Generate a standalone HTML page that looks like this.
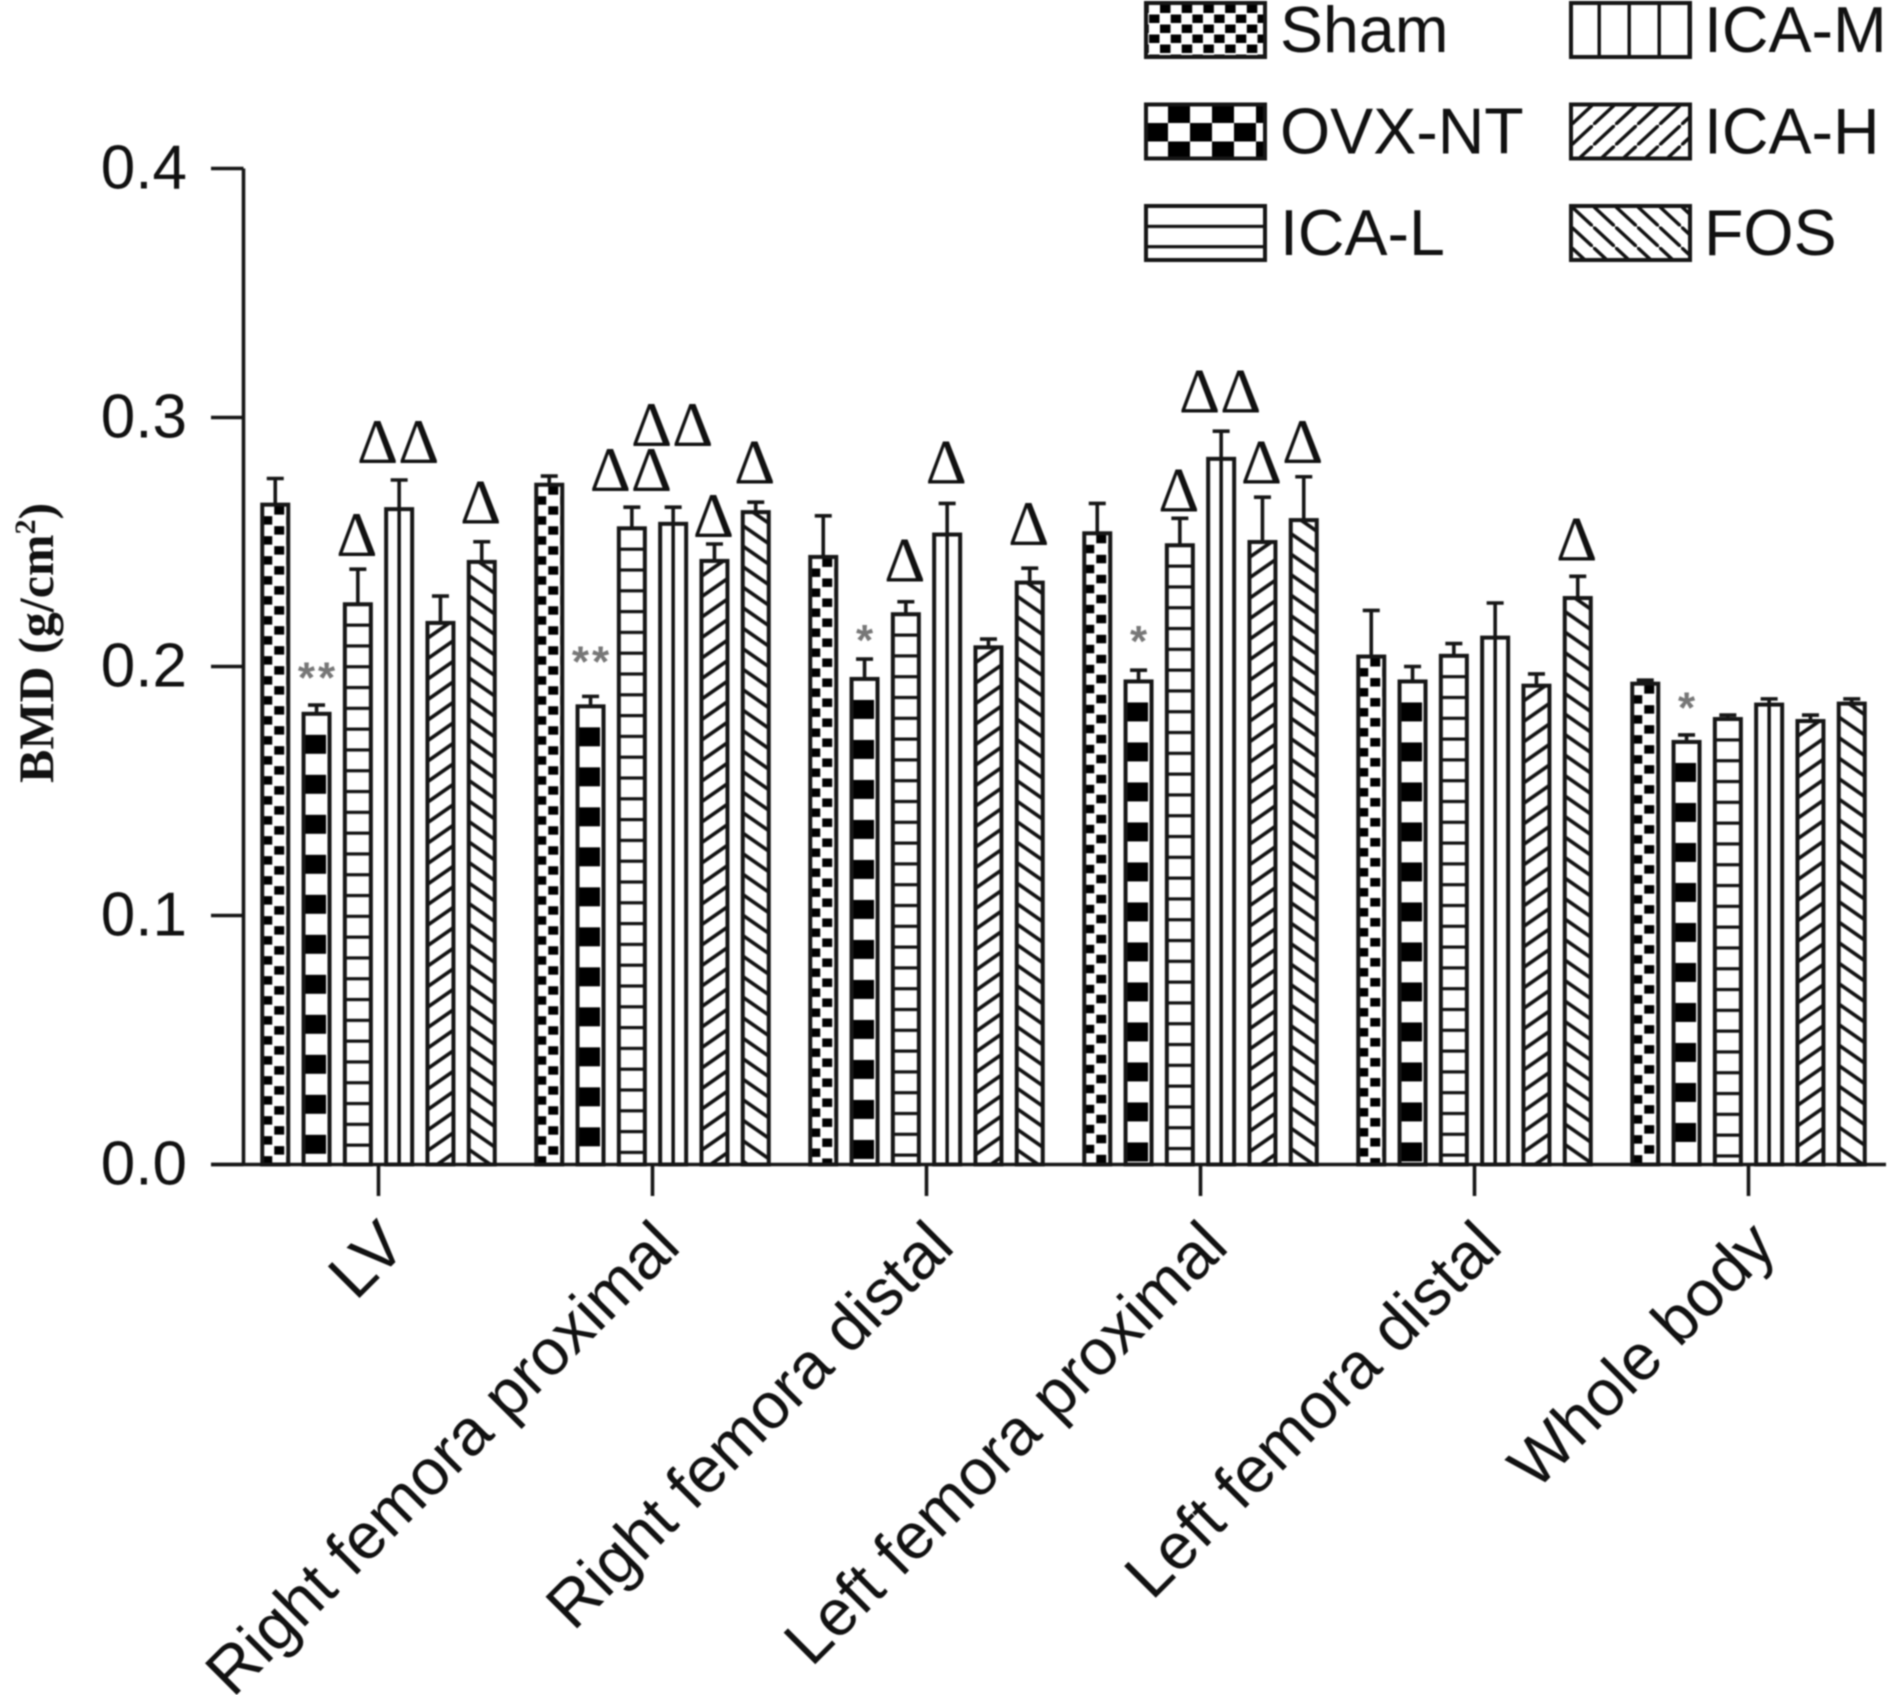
<!DOCTYPE html>
<html lang="en">
<head>
<meta charset="utf-8">
<title>BMD bar chart</title>
<style>
html,body{margin:0;padding:0;background:#fff;width:1890px;height:1695px;overflow:hidden}
svg{display:block;filter:blur(0.7px)}
text{fill:#111;font-family:"Liberation Sans",sans-serif}
</style>
</head>
<body>
<svg id="chart" xmlns="http://www.w3.org/2000/svg" width="1890" height="1695" viewBox="0 0 1890 1695">
<defs>
<!-- bar fills: tile origin is the top-centre of each bar -->
<pattern id="p0" patternUnits="userSpaceOnUse" width="24" height="20" x="-13" y="0">
<rect width="24" height="20" fill="#fff"/>
<rect x="0" y="11.5" width="10" height="8.5" fill="#000"/>
<rect x="12" y="1.5" width="10" height="8.5" fill="#000"/>
</pattern>
<pattern id="p1" patternUnits="userSpaceOnUse" width="46" height="40" x="-12" y="0">
<rect width="46" height="40" fill="#fff"/>
<rect x="0" y="21" width="21.5" height="19" fill="#000"/>
<rect x="23" y="1" width="22" height="19" fill="#000"/>
</pattern>
<pattern id="p2" patternUnits="userSpaceOnUse" width="20" height="20.8" x="0" y="-1.5">
<rect width="20" height="20.8" fill="#fff"/>
<rect y="0" width="20" height="3.2" fill="#111"/>
</pattern>
<pattern id="p3" patternUnits="userSpaceOnUse" width="60" height="20" x="-1.75" y="0">
<rect width="60" height="20" fill="#fff"/>
<rect x="0" width="3.5" height="20" fill="#111"/>
</pattern>
<pattern id="p4" patternUnits="userSpaceOnUse" width="29.3" height="20.5" x="-14.65" y="-3.95">
<rect width="29.3" height="20.5" fill="#fff"/>
<path d="M-3 22.6 L3 18.4 M0 20.5 L29.3 0 M26.3 2.1 L32.3 -2.1" stroke="#111" stroke-width="3.6" fill="none"/>
</pattern>
<pattern id="p5" patternUnits="userSpaceOnUse" width="29.3" height="20.5" x="-14.65" y="-8.25">
<rect width="29.3" height="20.5" fill="#fff"/>
<path d="M-3 -2.1 L3 2.1 M0 0 L29.3 20.5 M26.3 18.4 L32.3 22.6" stroke="#111" stroke-width="3.6" fill="none"/>
</pattern>
<!-- legend fills: tile origin is the top-left of each swatch -->
<pattern id="p0L" patternUnits="userSpaceOnUse" width="21.7" height="20" x="14" y="0">
<rect width="21.7" height="20" fill="#fff"/>
<rect x="0" y="1.5" width="10.5" height="8.5" fill="#000"/>
<rect x="10.7" y="11.5" width="10.5" height="8.5" fill="#000"/>
</pattern>
<pattern id="p1L" patternUnits="userSpaceOnUse" width="44" height="37" x="0" y="0">
<rect width="44" height="37" fill="#fff"/>
<rect x="22" y="0" width="22" height="18.5" fill="#000"/>
<rect x="0" y="18.5" width="22" height="18.5" fill="#000"/>
</pattern>
<pattern id="p2L" patternUnits="userSpaceOnUse" width="20" height="20.3" x="0" y="-1.5">
<rect width="20" height="20.3" fill="#fff"/>
<rect y="0" width="20" height="3.2" fill="#111"/>
</pattern>
<pattern id="p3L" patternUnits="userSpaceOnUse" width="30" height="20" x="-3.5" y="0">
<rect width="30" height="20" fill="#fff"/>
<rect x="0" width="3.4" height="20" fill="#111"/>
</pattern>
<pattern id="p4L" patternUnits="userSpaceOnUse" width="22" height="20.5" x="0" y="0">
<rect width="22" height="20.5" fill="#fff"/>
<path d="M-3 23.3 L3 17.7 M0 20.5 L22 0 M19 2.8 L25 -2.8" stroke="#111" stroke-width="3.4" fill="none"/>
</pattern>
<pattern id="p5L" patternUnits="userSpaceOnUse" width="22" height="20.5" x="0" y="0">
<rect width="22" height="20.5" fill="#fff"/>
<path d="M-3 -2.8 L3 2.8 M0 0 L22 20.5 M19 17.7 L25 23.3" stroke="#111" stroke-width="3.4" fill="none"/>
</pattern>
</defs>
</svg>
<script>
const categories = ["LV", "Right femora proximal", "Right femora distal", "Left femora proximal", "Left femora distal", "Whole body"];
const seriesNames = ["Sham", "OVX-NT", "ICA-L", "ICA-M", "ICA-H", "FOS"];
const yTicks = [0, 0.1, 0.2, 0.3, 0.4];
const shamValues = [0.265, 0.273, 0.244, 0.2535, 0.204, 0.1931];
const shamErrorTops = [0.2755, 0.2765, 0.2605, 0.2655, 0.2225, 0.1945];
const ovxValues = [0.181, 0.184, 0.195, 0.194, 0.194, 0.1697];
const ovxErrorTops = [0.1845, 0.188, 0.203, 0.1985, 0.2, 0.1725];
const icaLValues = [0.225, 0.2555, 0.221, 0.2487, 0.2043, 0.1789];
const icaLErrorTops = [0.2391, 0.264, 0.226, 0.2595, 0.2092, 0.1805];
const icaMValues = [0.2632, 0.2573, 0.253, 0.2834, 0.2116, 0.1847];
const icaMErrorTops = [0.2749, 0.264, 0.2655, 0.2945, 0.2255, 0.187];
const icaHValues = [0.2175, 0.2424, 0.2077, 0.25, 0.1923, 0.1781];
const icaHErrorTops = [0.2283, 0.2492, 0.211, 0.268, 0.197, 0.1805];
const fosValues = [0.242, 0.262, 0.2337, 0.2588, 0.2275, 0.1851];
const fosErrorTops = [0.2501, 0.266, 0.2395, 0.2762, 0.2362, 0.187];
const deltaCategories = [0, 0, 0, 1, 1, 1, 1, 2, 2, 2, 3, 3, 3, 3, 4];
const deltaSeries = [2, 3, 5, 2, 3, 4, 5, 2, 3, 5, 2, 3, 4, 5, 5];
const deltaLabels = ["Δ", "ΔΔ", "Δ", "ΔΔ", "ΔΔ", "Δ", "Δ", "Δ", "Δ", "Δ", "Δ", "ΔΔ", "Δ", "Δ", "Δ"];
const deltaLevels = [0.2444, 0.2817, 0.2575, 0.2705, 0.2885, 0.2521, 0.2734, 0.2342, 0.2734, 0.2488, 0.2623, 0.302, 0.2734, 0.2817, 0.2425];
const starCategories = [0, 1, 2, 3, 5];
const starLabels = ["**", "**", "*", "*", "*"];
const starLevels = [0.1895, 0.196, 0.2047, 0.2042, 0.1776];

const allValues = [shamValues, ovxValues, icaLValues, icaMValues, icaHValues, fosValues];
const allErrorTops = [shamErrorTops, ovxErrorTops, icaLErrorTops, icaMErrorTops, icaHErrorTops, fosErrorTops];

const NS = "http://www.w3.org/2000/svg";
const svg = document.getElementById("chart");
const axisY = 1164.5, unitPx = 2490, axisX = 243.5;
const firstTick = 378.5, groupStep = 274, barStep = 41.3, barW = 26;
const yScale = v => axisY - v * unitPx;
const xTick = c => firstTick + c * groupStep;
const xBar = (c, s) => xTick(c) + (s - 2.5) * barStep;
const slug = t => t.toLowerCase().replace(/[^a-z0-9]+/g, "-");

function mk(tag, attrs, parent) {
  const e = document.createElementNS(NS, tag);
  for (const k in attrs) e.setAttribute(k, attrs[k]);
  (parent || svg).appendChild(e);
  return e;
}
const ink = "#161616";

/* bars and error bars */
categories.forEach((cat, c) => {
  const group = mk("g", {});
  
  
  seriesNames.forEach((name, s) => {
    const v = allValues[s][c], e = allErrorTops[s][c], x = xBar(c, s);
    const whisker = mk("path", {d: "M" + x + " " + yScale(v) + "V" + yScale(e) + "M" + (x - 8.5) + " " + yScale(e) + "H" + (x + 8.5), stroke: ink, "stroke-width": 3.6, fill: "none"}, group);
    
    
    const holder = mk("g", {transform: "translate(" + x + "," + yScale(v) + ")"}, group);
    const bar = mk("rect", {x: -barW / 2, y: 0, width: barW, height: axisY - yScale(v), fill: "url(#p" + s + ")", stroke: ink, "stroke-width": 4}, holder);
    
    
  });
});

/* axes */
const yAxis = mk("path", {d: "M" + axisX + " " + yScale(0.4) + "V" + axisY, stroke: ink, "stroke-width": 3.6, fill: "none"});


const xAxis = mk("path", {d: "M211 " + axisY + "H1886", stroke: ink, "stroke-width": 3.6, fill: "none"});



yTicks.forEach(t => {
  const tick = mk("path", {d: "M211 " + yScale(t) + "H" + axisX, stroke: ink, "stroke-width": 3.6, fill: "none"});
  
  
  const label = mk("text", {x: 187, y: yScale(t) + 20, "text-anchor": "end", "font-size": 62});
  
  
  label.textContent = t.toFixed(1);
});

categories.forEach((cat, c) => {
  const x = xTick(c);
  const tick = mk("path", {d: "M" + x + " " + axisY + "V1196", stroke: ink, "stroke-width": 3.6, fill: "none"});
  
  
  const label = mk("text", {transform: "translate(" + (x + 30) + ",1249) rotate(-45)", "text-anchor": "end", "font-size": 65});
  
  
  label.textContent = cat;
});

/* y axis title */
const yTitle = mk("text", {transform: "translate(53,783) rotate(-90)", "font-size": 50, "font-weight": "bold", style: "font-family:'Liberation Serif',serif"});


yTitle.appendChild(document.createTextNode("BMD (g/cm"));
const sup = mk("tspan", {dy: -18, "font-size": 30}, yTitle);
sup.textContent = "2";
const closing = mk("tspan", {dy: 18}, yTitle);
closing.textContent = ")";

/* significance marks */
deltaLabels.forEach((t, i) => {
  const m = mk("text", {x: xBar(deltaCategories[i], deltaSeries[i]) - 1, y: yScale(deltaLevels[i]), "text-anchor": "middle", "font-size": 64, style: "font-family:'Liberation Serif',serif"});
  
  
  m.textContent = t;
});
starLabels.forEach((t, i) => {
  const m = mk("text", {x: xBar(starCategories[i], 1) + 1.5, y: yScale(starLevels[i]), "text-anchor": "middle", "font-size": 44, "font-weight": "bold", "letter-spacing": 3, style: "fill:#777"});
  
  
  m.textContent = t;
});

/* legend */
seriesNames.forEach((name, s) => {
  const col = Math.floor(s / 3), row = s % 3;
  const lx = 1146 + col * 425, ly = 3 + row * 101.5;
  const entry = mk("g", {transform: "translate(" + lx + "," + ly + ")"});
  
  
  const swatch = mk("rect", {x: 0, y: 0, width: 119, height: 54, fill: "url(#p" + s + "L)", stroke: ink, "stroke-width": 4}, entry);
  
  
  const label = mk("text", {x: col ? 133 : 134, y: 49, "font-size": 64.5}, entry);
  
  
  label.textContent = name;
});
</script>
</body>
</html>
